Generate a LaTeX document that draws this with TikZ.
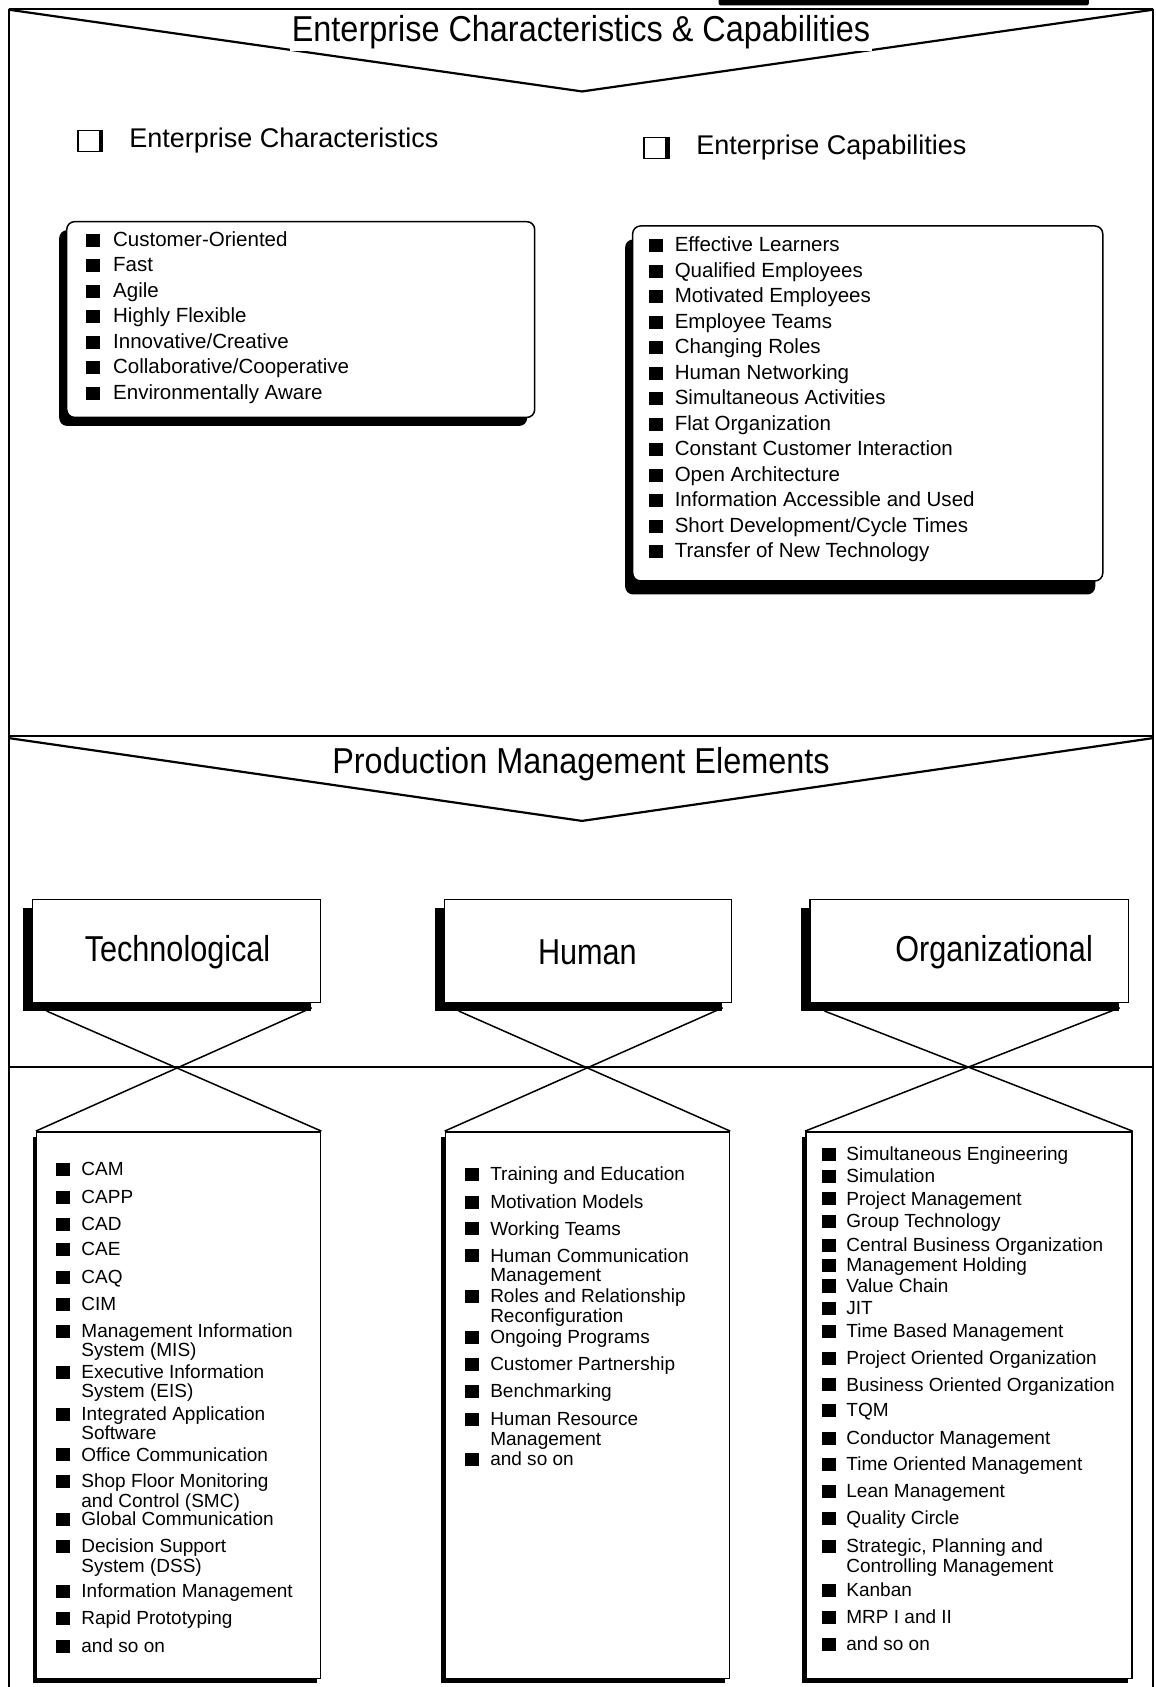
\documentclass[tikz,border=0pt]{standalone}
\usepackage{fontspec}
\setmainfont{Liberation Sans}
\newfontfamily\bannerfont[FakeStretch=0.9]{Liberation Sans}
\newfontfamily\headfont[FakeStretch=0.85]{Liberation Sans}
\usetikzlibrary{calc,fit,shadows}
% two-line list entry, baseline on the first line
\newcommand{\twol}[2]{\vtop{\hbox{#1}\hbox{#2}}}

\begin{document}
\begin{tikzpicture}[x=1.0754pt, y=-1.0754pt,
  frameline/.style={line width=1.8pt},
  vee/.style={line width=2.2pt, line join=miter},
  xline/.style={line width=1.5pt},
  bul/.style={fill=black, inner sep=0pt, minimum width=14pt, minimum height=13pt, anchor=south west},
  listitem/.style={anchor=base west, inner sep=0pt, font=\fontsize{19}{19.5}\selectfont},
  bigitem/.style={anchor=base west, inner sep=0pt, font=\fontsize{20.5}{22}\selectfont},
  chk/.style={draw, line width=1.8pt, inner sep=0pt, minimum width=22pt, minimum height=21pt},
  chktext/.style={anchor=base west, inner sep=0pt, font=\fontsize{27}{30}\selectfont},
  headtext/.style={anchor=base, inner sep=0pt, font=\headfont\fontsize{36}{40}\selectfont},
  banner/.style={anchor=base, inner sep=2pt, font=\bannerfont\fontsize{36}{40}\selectfont},
  roundbox/.style={draw, line width=1.5pt, fill=white, inner sep=0pt, rounded corners=8pt},
  headbox/.style={draw, line width=1.5pt, fill=white, inner sep=0pt,
    drop shadow={shadow xshift=-9.5pt, shadow yshift=-8.6pt, opacity=1, fill=black}},
  listbox/.style={draw, line width=1.5pt, fill=white, inner sep=0pt,
    drop shadow={shadow xshift=-4pt, shadow yshift=-5pt, opacity=1, fill=black}},
]
\useasboundingbox (0,0) rectangle (1074,1568);
\fill[white] (0,0) rectangle (1074,1568);

% ---------- upper section: banner ----------
\fill[rounded corners=2pt] (668,-4) rectangle (1012,5);
\draw[vee] (8,9) -- (541,85) -- (1072,9);
\node[banner, fill=white] (title1) at (540,39) {Enterprise Characteristics \& Capabilities};

% ---------- outer frame and dividers ----------
\draw[frameline] (8,8) -- (1072,8);
\draw[frameline] (8,8) -- (8,1580);
\draw[frameline] (1072,8) -- (1072,1580);
\draw[frameline] (8,684) -- (1072,684);
\draw[frameline] (8,992) -- (1072,992);

% ---------- characteristics ----------
\node[chk] (chk1) at (82.5,131) {};
\draw[line width=3pt] ($(chk1.north east)+(1,0)$) -- ($(chk1.south east)+(1,0)$);
\node[chktext] (hdr1) at (120,137) {Enterprise Characteristics};

\node[roundbox, fit={(62,206) (497,388)},
  drop shadow={shadow xshift=-7.5pt, shadow yshift=-8.5pt, opacity=1, fill=black}] (charbox) {};
\foreach \txt [count=\i] in {Customer-Oriented, Fast, Agile, Highly Flexible,
    Innovative/Creative, Collaborative/Cooperative, Environmentally Aware} {
  \pgfmathsetmacro\yy{229+23.7*(\i-1)}
  \node[bul] (cb\i) at (80,\yy+0.5) {};
  \node[bigitem] (ct\i) at (105,\yy) {\txt};
}

% ---------- capabilities ----------
\node[chk] (chk2) at (609,137.5) {};
\draw[line width=3pt] ($(chk2.north east)+(1,0)$) -- ($(chk2.south east)+(1,0)$);
\node[chktext] (hdr2) at (647,144) {Enterprise Capabilities};

\node[roundbox, fit={(588,210) (1025,540)},
  drop shadow={shadow xshift=-7.5pt, shadow yshift=-13.5pt, opacity=1, fill=black}] (capbox) {};
\foreach \txt [count=\i] in {Effective Learners, Qualified Employees, Motivated Employees,
    Employee Teams, Changing Roles, Human Networking, Simultaneous Activities,
    Flat Organization, Constant Customer Interaction, Open Architecture,
    Information Accessible and Used, Short Development/Cycle Times,
    Transfer of New Technology} {
  \pgfmathsetmacro\yy{234+23.7*(\i-1)}
  \node[bul] (pb\i) at (603,\yy+0.5) {};
  \node[bigitem] (pt\i) at (627,\yy) {\txt};
}

% ---------- lower section: banner ----------
\draw[vee] (8,686) -- (541,763) -- (1072,686);
\node[banner] (title2) at (540,719) {Production Management Elements};

% ---------- column headers ----------
\node[headbox, fit={(30,836) (298,932)}] (tech) {};
\node[headtext] (techtxt) at (165,894) {Technological};
\node[headbox, fit={(413,836) (680,932)}] (hum) {};
\node[headtext] (humtxt) at (546,896) {Human};
\node[headbox, fit={(753,836) (1049,932)}] (org) {};
\node[headtext] (orgtxt) at (924,894) {Organizational};

% ---------- column lists ----------
\node[listbox, fit={(34,1052) (298,1560)}] (techlist) {};
\node[listbox, fit={(414,1052) (678,1560)}] (humlist) {};
\node[listbox, fit={(749,1052) (1052,1560)}] (orglist) {};

% crossed links from each header to its list
\foreach \h/\l in {tech/techlist, hum/humlist, org/orglist} {
  \coordinate (\h-a) at ($(\h.south west)+(14,7)$);
  \coordinate (\h-b) at ($(\h.south east)+(-9,4)$);
  \draw[xline] (\h-a) -- (\l.north east);
  \draw[xline] (\h-b) -- (\l.north west);
}

% technological entries
\foreach \yy/\txt [count=\i] in {1093/CAM, 1119/CAPP, 1144/CAD, 1167/CAE, 1193/CAQ, 1218/CIM,
    1243/{\twol{Management Information}{System (MIS)}},
    1281/{\twol{Executive Information}{System (EIS)}},
    1320/{\twol{Integrated Application}{Software}},
    1358/Office Communication,
    1383/{\twol{Shop Floor Monitoring}{and Control (SMC)}},
    1418/Global Communication,
    1443/{\twol{Decision Support}{System (DSS)}},
    1485/Information Management, 1510/Rapid Prototyping, 1536/and so on} {
  \node[bul] (tb\i) at (51.5,\yy+0.5) {};
  \node[listitem] (tt\i) at (75.5,\yy) {\txt};
}

% human entries
\foreach \yy/\txt [count=\i] in {1097/Training and Education, 1123/Motivation Models,
    1148/Working Teams,
    1173/{\twol{Human Communication}{Management}},
    1211/{\twol{Roles and Relationship}{Reconfiguration}},
    1249/Ongoing Programs, 1274/Customer Partnership, 1299/Benchmarking,
    1325/{\twol{Human Resource}{Management}},
    1362/and so on} {
  \node[bul] (hb\i) at (432,\yy+0.5) {};
  \node[listitem] (ht\i) at (455.5,\yy) {\txt};
}

% organizational entries
\foreach \yy/\txt [count=\i] in {1079/Simultaneous Engineering, 1099/Simulation,
    1120/Project Management, 1141/Group Technology, 1163/Central Business Organization,
    1182/Management Holding, 1201/Value Chain, 1222/JIT, 1243/Time Based Management,
    1268/Project Oriented Organization, 1293/Business Oriented Organization, 1317/TQM,
    1343/Conductor Management, 1367/Time Oriented Management, 1392/Lean Management,
    1417/Quality Circle,
    1443/{\twol{Strategic, Planning and}{Controlling Management}},
    1484/Kanban, 1509/MRP I and II, 1534/and so on} {
  \node[bul] (ob\i) at (763.5,\yy+0.5) {};
  \node[listitem] (ot\i) at (786.5,\yy) {\txt};
}
\end{tikzpicture}
\end{document}
